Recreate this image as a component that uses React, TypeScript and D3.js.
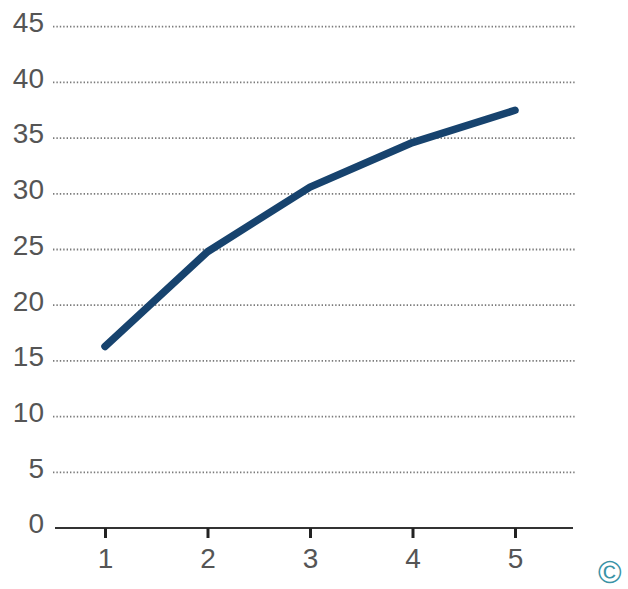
import { useEffect, useRef } from "react";
import * as d3 from "d3";

const xValues = [1, 2, 3, 4, 5];
const yValues = [16.3, 24.8, 30.6, 34.6, 37.5];
const yTicks = [0, 5, 10, 15, 20, 25, 30, 35, 40, 45];

const width = 628;
const height = 589;

const App = () => {
  const svgRef = useRef<SVGSVGElement | null>(null);

  useEffect(() => {
    if (!svgRef.current) return;
    const svg = d3.select(svgRef.current);
    svg.selectAll("*").remove();

    const x = d3.scaleLinear().domain([1, 5]).range([105, 515]);
    const y = d3.scaleLinear().domain([0, 45]).range([528, 26.7]);

    // dotted gridlines
    svg
      .append("g")
      .selectAll("line")
      .data(yTicks.filter((t) => t > 0))
      .enter()
      .append("line")
      .attr("x1", 53)
      .attr("x2", 575)
      .attr("y1", (d) => y(d))
      .attr("y2", (d) => y(d))
      .attr("stroke", "#7a7a7a")
      .attr("stroke-width", 1.8)
      .attr("stroke-dasharray", "1.4,2");

    // y labels
    svg
      .append("g")
      .selectAll("text")
      .data(yTicks)
      .enter()
      .append("text")
      .attr("x", 44)
      .attr("y", (d) => y(d) - 2)
      .attr("text-anchor", "end")
      .attr("dominant-baseline", "middle")
      .attr("font-family", "Liberation Sans, Arial, sans-serif")
      .attr("font-size", 28)
      .attr("fill", "#555")
      .text((d) => d);

    // x axis
    const xAxis = svg
      .append("g")
      .attr("transform", `translate(0,${y(0)})`)
      .call(
        d3
          .axisBottom(x)
          .tickValues(xValues)
          .tickSize(10)
          .tickSizeOuter(0)
          .tickPadding(10)
          .tickFormat(d3.format("d"))
      );
    xAxis.select(".domain").attr("d", `M55,0H573`).attr("stroke", "#333").attr("stroke-width", 2);
    xAxis.selectAll(".tick line").attr("stroke", "#222").attr("stroke-width", 3);
    xAxis
      .selectAll(".tick text")
      .attr("font-family", "Liberation Sans, Arial, sans-serif")
      .attr("font-size", 28)
      .attr("fill", "#555");

    const line = d3
      .line<number>()
      .x((_, i) => x(xValues[i]))
      .y((d) => y(d));

    svg
      .append("path")
      .datum(yValues)
      .attr("d", line)
      .attr("fill", "none")
      .attr("stroke", "#17436e")
      .attr("stroke-width", 7.5)
      .attr("stroke-linecap", "round")
      .attr("stroke-linejoin", "round");

    svg
      .append("text")
      .attr("x", 598)
      .attr("y", 583)
      .attr("font-family", "Liberation Sans, Arial, sans-serif")
      .attr("font-size", 32)
      .attr("fill", "#3a93a6")
      .text("©");
  }, []);

  return (
    <svg
      ref={svgRef}
      width={width}
      height={height}
      style={{ position: "absolute", left: 0, top: 0, background: "#fff" }}
    />
  );
};

export default App;
